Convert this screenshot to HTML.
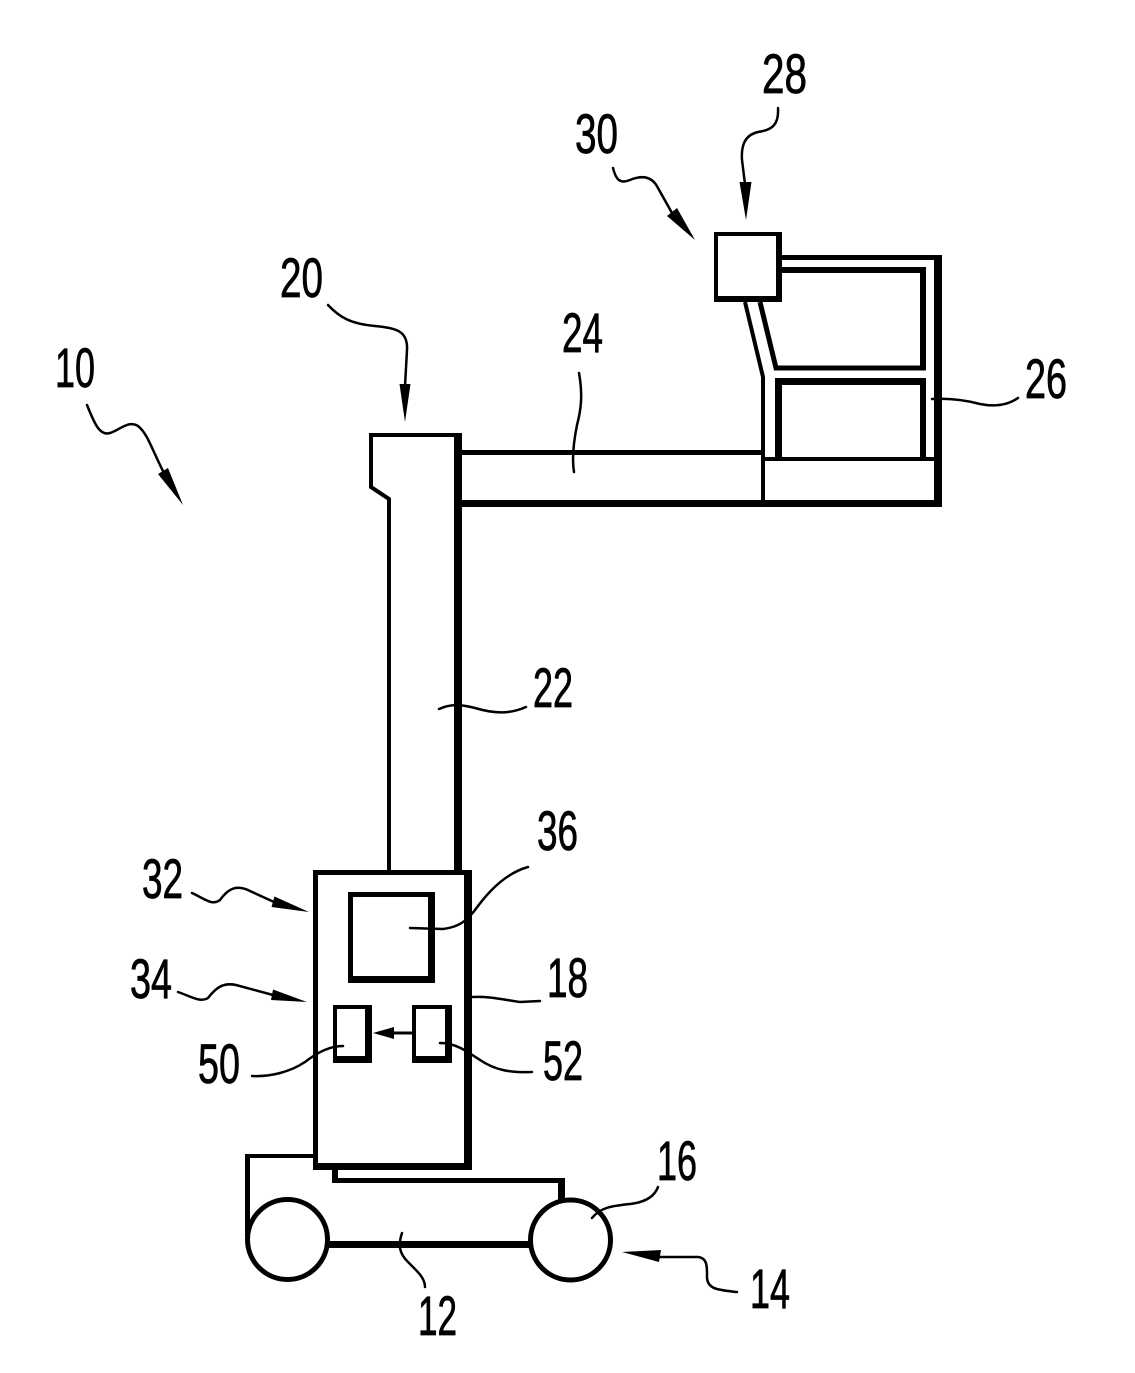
<!DOCTYPE html>
<html>
<head>
<meta charset="utf-8">
<style>
html,body{margin:0;padding:0;background:#fff;}
svg{display:block;}
text{font-family:"Liberation Sans",sans-serif;font-size:56px;fill:#000;stroke:#000;stroke-width:0.8px;}
</style>
</head>
<body>
<svg width="1135" height="1373" viewBox="0 0 1135 1373" xmlns="http://www.w3.org/2000/svg">
<rect width="1135" height="1373" fill="#fff"/>

<!-- Column head & column 22 -->
<path d="M371,435 L371,487 L389,499 L389,870" fill="none" stroke="#000" stroke-width="4"/>
<rect x="369" y="433" width="93" height="4" fill="#000"/>
<rect x="454" y="433" width="8" height="439" fill="#000"/>

<!-- Arm 24 -->
<rect x="462" y="450" width="303" height="5" fill="#000"/>
<rect x="455" y="500" width="487" height="7" fill="#000"/>

<!-- Link from box 28 -->
<path d="M745,302 L763,377 L763,503" fill="none" stroke="#000" stroke-width="4"/>
<path d="M760,302 L776,368 L926,368" fill="none" stroke="#000" stroke-width="5"/>

<!-- Platform 26 -->
<rect x="782" y="255" width="160" height="5" fill="#000"/>
<rect x="934" y="255" width="8" height="252" fill="#000"/>
<rect x="782" y="267" width="144" height="6" fill="#000"/>
<rect x="920" y="267" width="6" height="103" fill="#000"/>
<rect x="775" y="378" width="7" height="83" fill="#000"/>
<rect x="775" y="378" width="151" height="7" fill="#000"/>
<rect x="920" y="378" width="6" height="83" fill="#000"/>
<rect x="765" y="457" width="177" height="4" fill="#000"/>

<!-- Box 28 -->
<rect x="714" y="232" width="68" height="4" fill="#000"/>
<rect x="714" y="232" width="4" height="70" fill="#000"/>
<rect x="776" y="232" width="6" height="70" fill="#000"/>
<rect x="714" y="296" width="68" height="6" fill="#000"/>

<!-- Cabinet 18 -->
<rect x="313" y="870" width="159" height="5" fill="#000"/>
<rect x="313" y="870" width="5" height="300" fill="#000"/>
<rect x="464" y="870" width="8" height="300" fill="#000"/>
<rect x="313" y="1163" width="159" height="7" fill="#000"/>

<!-- Box 36 -->
<rect x="348" y="892" width="87" height="5" fill="#000"/>
<rect x="348" y="892" width="5" height="91" fill="#000"/>
<rect x="428" y="892" width="7" height="91" fill="#000"/>
<rect x="348" y="976" width="87" height="7" fill="#000"/>

<!-- Box 50 -->
<rect x="333" y="1005" width="39" height="4" fill="#000"/>
<rect x="333" y="1005" width="4" height="58" fill="#000"/>
<rect x="365" y="1005" width="7" height="58" fill="#000"/>
<rect x="333" y="1056" width="39" height="7" fill="#000"/>

<!-- Box 52 -->
<rect x="412" y="1005" width="40" height="4" fill="#000"/>
<rect x="412" y="1005" width="4" height="58" fill="#000"/>
<rect x="445" y="1005" width="7" height="58" fill="#000"/>
<rect x="412" y="1056" width="40" height="7" fill="#000"/>

<!-- Arrow 52 -> 50 -->
<line x1="412" y1="1033" x2="392" y2="1033" stroke="#000" stroke-width="3"/>
<polygon points="373,1033 394,1027 394,1039" fill="#000"/>

<!-- Chassis -->
<rect x="245" y="1154" width="5" height="82" fill="#000"/>
<rect x="245" y="1154" width="68" height="4" fill="#000"/>
<rect x="332" y="1168" width="6" height="15" fill="#000"/>
<rect x="332" y="1178" width="233" height="5" fill="#000"/>
<rect x="558" y="1178" width="7" height="22" fill="#000"/>
<rect x="328" y="1241" width="202" height="7" fill="#000"/>

<!-- Wheels -->
<circle cx="287.5" cy="1239.5" r="40" fill="none" stroke="#000" stroke-width="5"/>
<circle cx="570.5" cy="1240" r="40" fill="none" stroke="#000" stroke-width="5"/>

<!-- Leaders / arrows -->
<g fill="none" stroke="#000" stroke-width="2.5" stroke-linecap="round">
  <path d="M87,405 C95,425 100,436 110,433 C120,430 128,420 138,426 C148,434 152,450 164,473"/>
  <path d="M328,305 C340,318 352,324 375,326 C398,328 408,332 407,350 L405,386"/>
  <path d="M778,108 C779,125 772,130 758,132 C745,135 741,145 742,160 L745,184"/>
  <path d="M613,168 C616,180 620,184 630,180 C642,175 652,176 658,188 L672,213"/>
  <path d="M192,893 C205,899 212,906 220,900 C228,889 236,884 250,891 L274,902"/>
  <path d="M178,992 C190,996 200,1003 208,998 C215,989 222,982 236,985 L273,995"/>
  <path d="M658,1257 L698,1257 C708,1258 707,1268 707,1278 C708,1290 720,1290 737,1292"/>
  <path d="M402,1233 C398,1245 399,1253 408,1262 C418,1272 425,1278 425,1287"/>
  <path d="M592,1218 C600,1208 610,1206 630,1204 C648,1202 655,1195 658,1187"/>
  <path d="M439,709 C450,704 460,704 475,708 C495,714 510,714 526,707"/>
  <path d="M579,373 C583,395 581,410 577,425 C573,445 572,460 574,472"/>
  <path d="M932,399 C950,398 965,400 980,404 C995,407 1008,405 1018,398"/>
  <path d="M410,928 L443,929 C460,927 468,920 478,906 C493,886 510,872 528,867"/>
  <path d="M472,997 C490,996 505,1000 520,1002 L540,1001"/>
  <path d="M440,1043 C455,1043 465,1050 480,1060 C495,1070 510,1073 532,1072"/>
  <path d="M252,1076 C270,1077 290,1072 305,1062 C318,1052 330,1046 343,1046"/>
</g>

<!-- Arrowheads -->
<g fill="#000">
  <polygon points="183,505 158,474 168,468"/>
  <polygon points="405,422 399.5,384 410.5,384"/>
  <polygon points="746,220 739.5,182 751.5,182"/>
  <polygon points="695,240 667,216 677,208"/>
  <polygon points="309,912 271.5,907 274.5,896.5"/>
  <polygon points="307,1002 271,1000 273,989.5"/>
  <polygon points="622,1252 661,1250 659,1262"/>
</g>

<!-- Labels -->
<text x="55" y="387" textLength="40" lengthAdjust="spacingAndGlyphs">10</text>
<text x="280" y="297" textLength="43" lengthAdjust="spacingAndGlyphs">20</text>
<text x="562" y="352" textLength="41" lengthAdjust="spacingAndGlyphs">24</text>
<text x="762" y="93" textLength="45" lengthAdjust="spacingAndGlyphs">28</text>
<text x="575" y="153" textLength="43" lengthAdjust="spacingAndGlyphs">30</text>
<text x="1025" y="398" textLength="42" lengthAdjust="spacingAndGlyphs">26</text>
<text x="533" y="707" textLength="40" lengthAdjust="spacingAndGlyphs">22</text>
<text x="537" y="850" textLength="41" lengthAdjust="spacingAndGlyphs">36</text>
<text x="142" y="898" textLength="41" lengthAdjust="spacingAndGlyphs">32</text>
<text x="130" y="998" textLength="42" lengthAdjust="spacingAndGlyphs">34</text>
<text x="547" y="997" textLength="41" lengthAdjust="spacingAndGlyphs">18</text>
<text x="198" y="1083" textLength="42" lengthAdjust="spacingAndGlyphs">50</text>
<text x="543" y="1080" textLength="40" lengthAdjust="spacingAndGlyphs">52</text>
<text x="657" y="1180" textLength="40" lengthAdjust="spacingAndGlyphs">16</text>
<text x="750" y="1308" textLength="40" lengthAdjust="spacingAndGlyphs">14</text>
<text x="418" y="1335" textLength="39" lengthAdjust="spacingAndGlyphs">12</text>
</svg>
</body>
</html>
